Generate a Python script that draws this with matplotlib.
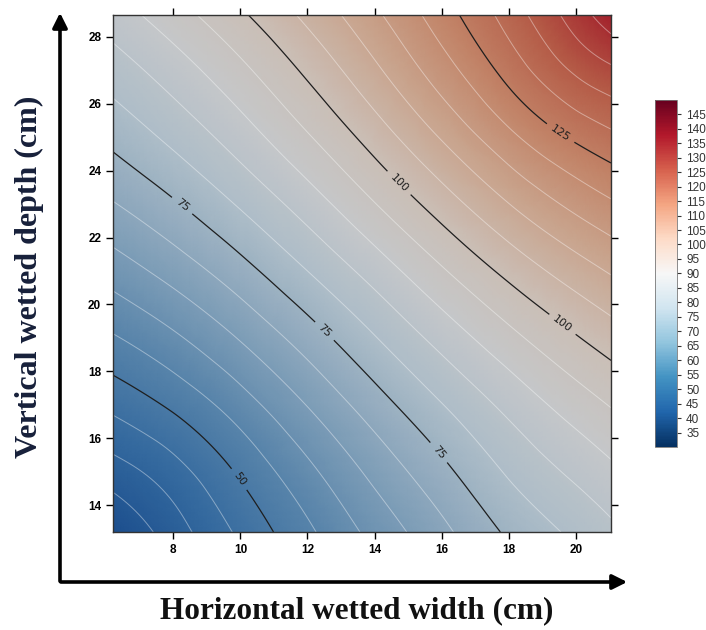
import numpy as np
import matplotlib
matplotlib.use('Agg')
import matplotlib.pyplot as plt
import matplotlib.tri as mtri
from matplotlib import cm
from matplotlib.colors import LinearSegmentedColormap, Normalize

# grid (cm) and the response at each node
width = [6.2, 8, 10, 12, 14, 16, 18, 20, 21.05]
depth = [13.2, 15, 17, 19, 21, 23, 25, 27, 28.65]
value = [
    [29.8, 37.6, 46.0, 54.0, 61.6, 68.7, 75.8, 81.1, 83.9],
    [37.7, 43.0, 50.8, 58.7, 66.4, 73.6, 80.6, 86.1, 88.9],
    [46.3, 51.0, 57.7, 65.2, 72.7, 79.8, 86.4, 92.4, 95.3],
    [54.5, 59.1, 65.4, 72.4, 79.7, 86.8, 93.5, 99.6, 102.5],
    [62.3, 67.0, 73.1, 80.0, 87.1, 94.4, 101.4, 107.6, 110.5],
    [69.7, 74.4, 80.6, 87.4, 94.8, 102.4, 109.9, 116.4, 119.3],
    [76.4, 81.3, 87.5, 94.5, 102.2, 110.4, 118.7, 125.9, 128.8],
    [82.5, 87.5, 93.8, 101.0, 109.0, 117.7, 126.9, 135.8, 139.1],
    [87.6, 92.8, 99.2, 106.2, 114.0, 122.6, 132.1, 142.4, 148.1],
]
main_levels = [50, 75, 100, 125]
thin_levels = [l for l in range(35, 150, 5) if l not in main_levels]
cbar_ticks = list(range(35, 150, 5))
x_ticks = [8, 10, 12, 14, 16, 18, 20]
y_ticks = [14, 16, 18, 20, 22, 24, 26, 28]
label_pos = [(10.0, 14.8), (8.3, 23.0), (12.7, 19.4), (16.3, 15.9),
             (14.9, 23.8), (19.6, 19.4), (19.6, 25.2)]

vmin, vmax = 30, 150
norm = Normalize(vmin, vmax)

# muted colours seen inside the plot (the colorbar itself is plain RdBu_r)
fill_stops = [(30, '#1c4f8e'), (42, '#33689e'), (55, '#5884aa'), (68, '#86a3ba'),
              (80, '#aebdc8'), (90, '#c5c7c9'), (100, '#cabfb7'), (111, '#c9a690'),
              (123, '#c28468'), (136, '#b45a46'), (150, '#a01828')]
fill_cmap = LinearSegmentedColormap.from_list(
    'muted', [((v - vmin) / (vmax - vmin), c) for v, c in fill_stops])

X, Y = np.meshgrid(width, depth)
Z = np.array(value)
tri = mtri.Triangulation(X.ravel(), Y.ravel())
refiner = mtri.UniformTriRefiner(tri)
tri_f, z_f = refiner.refine_field(Z.ravel(), subdiv=4)

fig = plt.figure(figsize=(7.06, 6.3), dpi=100)
ax = fig.add_axes([0.160, 0.1556, 0.7054, 0.8206])

ax.tripcolor(tri_f, z_f, cmap=fill_cmap, norm=norm, shading='gouraud')
ax.tricontour(tri_f, z_f, levels=thin_levels, colors='white', linewidths=0.7, alpha=0.4)
cs = ax.tricontour(tri_f, z_f, levels=main_levels, colors='#1e1e1e', linewidths=0.9)
ax.clabel(cs, fmt='%d', fontsize=8, inline=True, inline_spacing=6, manual=label_pos)

ax.set_xlim(width[0], width[-1])
ax.set_ylim(depth[0], depth[-1])
ax.set_xticks(x_ticks)
ax.set_yticks(y_ticks)
ax.tick_params(direction='out', length=5, width=1, top=True, right=True,
               labelsize=8.5, colors='black')
for lab in ax.get_xticklabels() + ax.get_yticklabels():
    lab.set_fontweight('bold')
    lab.set_family('Liberation Sans')
for s in ax.spines.values():
    s.set_linewidth(1.0)
    s.set_color('#333333')

# colorbar
cax = fig.add_axes([0.928, 0.2905, 0.031, 0.551])
cb = fig.colorbar(cm.ScalarMappable(norm=norm, cmap='RdBu_r'), cax=cax, ticks=cbar_ticks)
cb.ax.tick_params(labelsize=8.5, length=3, width=0.8, colors='#333333')
cb.outline.set_linewidth(0.6)
cb.outline.set_edgecolor('#777777')
for lab in cb.ax.get_yticklabels():
    lab.set_family('Liberation Sans')

# big axis arrows
ax.annotate('', xy=(60 / 706, 1 - 10 / 630), xytext=(60 / 706, 1 - 584 / 630),
            xycoords='figure fraction', textcoords='figure fraction', annotation_clip=False,
            arrowprops=dict(arrowstyle='-|>', lw=2.6, color='black', mutation_scale=22))
ax.annotate('', xy=(630 / 706, 1 - 582 / 630), xytext=(58 / 706, 1 - 582 / 630),
            xycoords='figure fraction', textcoords='figure fraction', annotation_clip=False,
            arrowprops=dict(arrowstyle='-|>', lw=2.6, color='black', mutation_scale=22))

fig.text(29 / 706, 1 - 277 / 630, 'Vertical wetted depth (cm)', rotation=90,
         ha='center', va='center', fontsize=23, fontweight='bold',
         family='Liberation Serif', color='#17203a')
fig.text(357 / 706, 1 - 611 / 630, 'Horizontal wetted width (cm)',
         ha='center', va='center', fontsize=22.5, fontweight='bold',
         family='Liberation Serif', color='#111111')

fig.savefig('out.png', dpi=100)
